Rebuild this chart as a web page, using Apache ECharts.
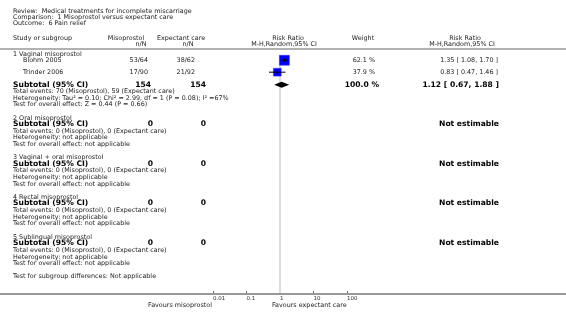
<!DOCTYPE html>
<html>
<head>
<meta charset="utf-8">
<script src="https://cdn.jsdelivr.net/npm/echarts@6/dist/echarts.min.js"></script>
<style>
  html, body { margin: 0; padding: 0; background: #fff; }
  #main { width: 566px; height: 317px; }
</style>
</head>
<body>
<div id="main"></div>
<script>
// study level data
const studyNames = ['Blohm 2005', 'Trinder 2006'];
const misoEvents = [53, 17];
const misoTotal = [64, 90];
const expEvents = [38, 21];
const expTotal = [62, 92];
const weights = [62.1, 37.9];
const rr = [1.35, 0.83];
const rrLow = [1.08, 0.47];
const rrHigh = [1.70, 1.46];

// subgroup level data
const subgroups = ['1 Vaginal misoprostol', '2 Oral misoprostol', '3 Vaginal + oral misoprostol', '4 Rectal misoprostol', '5 Sublingual misoprostol'];
const subMisoN = [154, 0, 0, 0, 0];
const subExpN = [154, 0, 0, 0, 0];
const subMisoEvents = [70, 0, 0, 0, 0];
const subExpEvents = [59, 0, 0, 0, 0];
const pooled = [1.12, 0.67, 1.88]; // only subgroup 1 is estimable
const xTicks = [0.01, 0.1, 1, 10, 100];

const chart = echarts.init(document.getElementById('main'));
const FONT = '"DejaVu Sans", Verdana, sans-serif';

// rows are laid out in text lines
const TOP = 49, LINES = 37, LINE = 245 / LINES;
const py = l => TOP + l * LINE;
const studyLines = [1.7, 3.5];
const groupLines = [0.75, 10.4, 16.4, 22.4, 28.4];
const subtotalLines = [5.4, 11.3, 17.3, 23.3, 29.3];

function txt(x, y, s, o = {}) {
  return {
    type: 'text', x: x, y: y, silent: true,
    style: {
      text: s, fontFamily: FONT, fontSize: o.size || 6.4,
      fontWeight: o.bold ? 'bold' : 'normal', fill: o.color || '#222',
      align: o.align || 'left', verticalAlign: 'middle'
    }
  };
}
const big = (extra) => Object.assign({ bold: true, size: 7.6, color: '#000' }, extra);

const fmt = v => v.toFixed(2);
const texts = [];
// title block
texts.push(txt(13, 11.5, 'Review:  Medical treatments for incomplete miscarriage'));
texts.push(txt(13, 17.2, 'Comparison:  1 Misoprostol versus expectant care'));
texts.push(txt(13, 23, 'Outcome:  6 Pain relief'));
// header
texts.push(txt(13, 38, 'Study or subgroup'));
texts.push(txt(126, 38, 'Misoprostol', { align: 'center' }));
texts.push(txt(141, 44, 'n/N', { align: 'center' }));
texts.push(txt(181, 38, 'Expectant care', { align: 'center' }));
texts.push(txt(188, 44, 'n/N', { align: 'center' }));
texts.push(txt(288, 38, 'Risk Ratio', { align: 'center' }));
texts.push(txt(284, 44, 'M-H,Random,95% CI', { align: 'center' }));
texts.push(txt(363, 38, 'Weight', { align: 'center' }));
texts.push(txt(465, 38, 'Risk Ratio', { align: 'center' }));
texts.push(txt(462, 44, 'M-H,Random,95% CI', { align: 'center' }));

// studies
studyNames.forEach((n, i) => {
  const y = py(studyLines[i]);
  texts.push(txt(23, y, n));
  texts.push(txt(148, y, misoEvents[i] + '/' + misoTotal[i], { align: 'right' }));
  texts.push(txt(195, y, expEvents[i] + '/' + expTotal[i], { align: 'right' }));
  texts.push(txt(375, y, weights[i].toFixed(1) + ' %', { align: 'right' }));
  texts.push(txt(498, y, fmt(rr[i]) + ' [ ' + fmt(rrLow[i]) + ', ' + fmt(rrHigh[i]) + ' ]', { align: 'right' }));
});

// subgroups
subgroups.forEach((g, k) => {
  const s = subtotalLines[k];
  texts.push(txt(13, py(groupLines[k]), g));
  texts.push(txt(13, py(s), 'Subtotal (95% CI)', big()));
  texts.push(txt(k === 0 ? 151 : 153, py(s), String(subMisoN[k]), big({ align: 'right' })));
  texts.push(txt(206, py(s), String(subExpN[k]), big({ align: 'right' })));
  if (k === 0) {
    texts.push(txt(379, py(s), '100.0 %', big({ align: 'right' })));
    texts.push(txt(499, py(s), fmt(pooled[0]) + ' [ ' + fmt(pooled[1]) + ', ' + fmt(pooled[2]) + ' ]', big({ align: 'right' })));
    texts.push(txt(13, py(s + 1), 'Total events: ' + subMisoEvents[k] + ' (Misoprostol), ' + subExpEvents[k] + ' (Expectant care)'));
    texts.push(txt(13, py(s + 2), 'Heterogeneity: Tau\u00b2 = 0.10; Chi\u00b2 = 2.99, df = 1 (P = 0.08); I\u00b2 =67%'));
    texts.push(txt(13, py(s + 3), 'Test for overall effect: Z = 0.44 (P = 0.66)'));
  } else {
    texts.push(txt(499, py(s), 'Not estimable', big({ align: 'right' })));
    texts.push(txt(13, py(s + 1.1), 'Total events: ' + subMisoEvents[k] + ' (Misoprostol), ' + subExpEvents[k] + ' (Expectant care)'));
    texts.push(txt(13, py(s + 2.1), 'Heterogeneity: not applicable'));
    texts.push(txt(13, py(s + 3.1), 'Test for overall effect: not applicable'));
  }
});
texts.push(txt(13, py(34.4), 'Test for subgroup differences: Not applicable'));
texts.push(txt(212, 305, 'Favours misoprostol', { align: 'right' }));
texts.push(txt(272, 305, 'Favours expectant care'));

// full width rules
texts.push({ type: 'line', silent: true, shape: { x1: 0, y1: 49, x2: 566, y2: 49 }, style: { stroke: '#999', lineWidth: 1.5 } });
texts.push({ type: 'line', silent: true, shape: { x1: 0, y1: 294, x2: 566, y2: 294 }, style: { stroke: '#999', lineWidth: 2 }, z: 10 });

const studyData = rr.map((v, i) => [v, rrLow[i], rrHigh[i], studyLines[i], weights[i]]);

chart.setOption({
  animation: false,
  grid: { left: 213, right: 219, top: TOP, bottom: 23 },
  xAxis: {
    type: 'log', logBase: 10, position: 'bottom',
    min: xTicks[0], max: xTicks[xTicks.length - 1],
    axisLine: { show: false, onZero: false },
    axisTick: { show: true, inside: true, length: 3, lineStyle: { color: '#666' } },
    axisLabel: { fontSize: 5.5, color: '#333', align: 'left', margin: 2, fontFamily: FONT },
    splitLine: { show: false }
  },
  yAxis: { type: 'value', inverse: true, min: 0, max: LINES, show: false },
  graphic: texts,
  series: [
    {
      // line of no effect
      type: 'line', symbol: 'none', silent: true, z: 1,
      data: [[1, 0.9], [1, LINES]],
      lineStyle: { color: '#ddd', width: 2 }
    },
    {
      type: 'custom', z: 5,
      data: studyData,
      renderItem: (params, api) => {
        const y = api.value(3);
        const c = api.coord([api.value(0), y]);
        const lo = api.coord([api.value(1), y]);
        const hi = api.coord([api.value(2), y]);
        const side = 1.27 * Math.sqrt(api.value(4));
        return {
          type: 'group',
          children: [
            { type: 'rect', shape: { x: c[0] - side / 2, y: c[1] - side / 2, width: side, height: side }, style: { fill: '#0000ff', stroke: '#3333ff', lineWidth: 0.5 } },
            { type: 'line', shape: { x1: lo[0], y1: c[1], x2: hi[0], y2: c[1] }, style: { stroke: '#000', lineWidth: 1 } },
            { type: 'line', shape: { x1: c[0], y1: c[1] - 2, x2: c[0], y2: c[1] + 2 }, style: { stroke: '#000', lineWidth: 1 } }
          ]
        };
      }
    },
    {
      type: 'custom', z: 5,
      data: [[pooled[0], pooled[1], pooled[2], subtotalLines[0]]],
      renderItem: (params, api) => {
        const y = api.value(3);
        const c = api.coord([api.value(0), y]);
        const lo = api.coord([api.value(1), y]);
        const hi = api.coord([api.value(2), y]);
        return {
          type: 'polygon',
          shape: { points: [[lo[0], c[1]], [c[0], c[1] - 3], [hi[0], c[1]], [c[0], c[1] + 3]] },
          style: { fill: '#000' }
        };
      }
    }
  ]
});
</script>
</body>
</html>
